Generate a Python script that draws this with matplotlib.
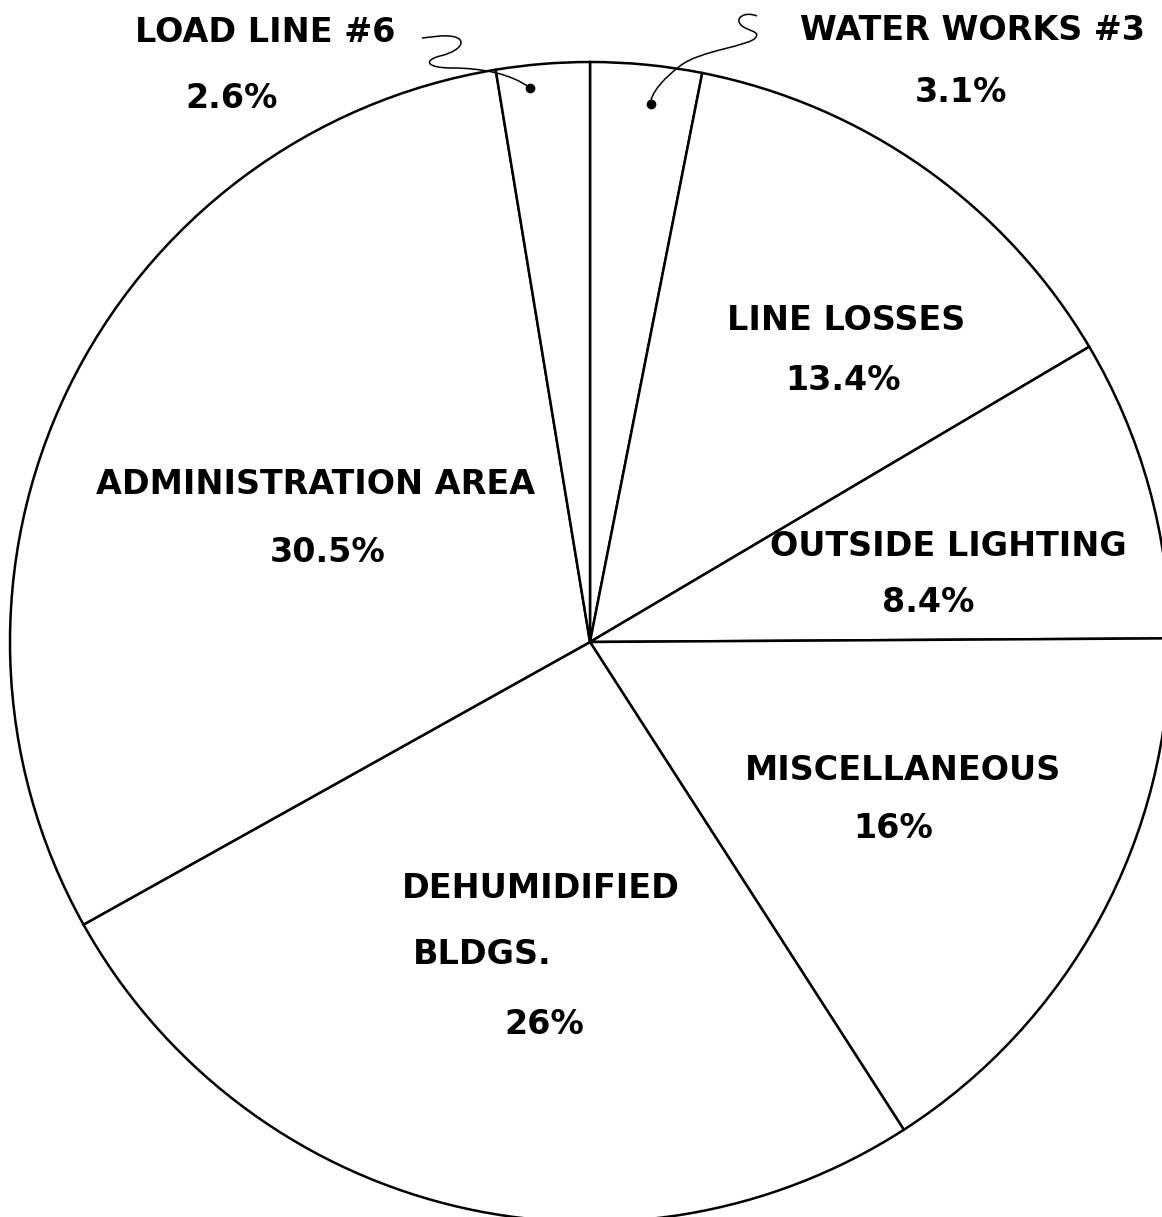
import matplotlib
matplotlib.use("Agg")
import matplotlib.pyplot as plt
from matplotlib.path import Path
from matplotlib.patches import PathPatch

# ---- data ----
categories = ["WATER WORKS #3", "LINE LOSSES", "OUTSIDE LIGHTING", "MISCELLANEOUS",
              "DEHUMIDIFIED BLDGS.", "ADMINISTRATION AREA", "LOAD LINE #6"]
values = [3.1, 13.4, 8.4, 16, 26, 30.5, 2.6]
pct_labels = ["3.1%", "13.4%", "8.4%", "16%", "26%", "30.5%", "2.6%"]

W, H = 1162, 1217
fig = plt.figure(figsize=(W / 100, H / 100), dpi=100)
ax = fig.add_axes([0, 0, 1, 1])

def Y(y):
    return H - y

cx, cy, R = 590, 642, 580
ax.pie(values, startangle=90, counterclock=False, center=(cx, Y(cy)), radius=R,
       wedgeprops=dict(facecolor="white", edgecolor="black", linewidth=1.8))
ax.set_xlim(0, W)
ax.set_ylim(0, H)
ax.set_aspect("equal")
ax.axis("off")

fs = 24
tk = dict(fontsize=fs, family="DejaVu Sans", fontweight="bold", color="black", va="center")

def T(x, y, s, ha="center"):
    ax.text(x, Y(y), s, ha=ha, **tk)

T(265, 33, "LOAD LINE #6")
T(232, 98, pct_labels[6])
T(973, 30, "WATER WORKS #3")
T(961, 93, pct_labels[0])
T(846, 320, "LINE LOSSES")
T(843, 380, pct_labels[1])
T(316, 484, "ADMINISTRATION AREA")
T(328, 553, pct_labels[5])
T(948, 546, "OUTSIDE LIGHTING")
T(928, 603, pct_labels[2])
T(903, 770, "MISCELLANEOUS")
T(893, 828, pct_labels[3])
T(541, 888, "DEHUMIDIFIED")
T(413, 955, "BLDGS.", ha="left")
T(544, 1025, pct_labels[4])

# connector squiggles
def squiggle(pts, codes):
    verts = [(x, Y(y)) for x, y in pts]
    ax.add_patch(PathPatch(Path(verts, codes), facecolor="none", edgecolor="black",
                           linewidth=1.1, clip_on=False))

M, L, C = Path.MOVETO, Path.LINETO, Path.CURVE4
squiggle([(422, 38), (440, 36),
          (470, 34), (466, 50), (440, 56),
          (424, 60), (425, 68), (452, 68),
          (482, 68), (512, 74), (530, 88)],
         [M, L, C, C, C, C, C, C, C, C, C])
ax.plot([530], [Y(88)], "o", color="black", markersize=6)

squiggle([(757, 16),
          (745, 11), (734, 18), (741, 25),
          (747, 31), (760, 31), (756, 37),
          (752, 46), (700, 50), (680, 66),
          (662, 80), (652, 92), (650, 104)],
         [M, C, C, C, C, C, C, C, C, C, C, C, C])
ax.plot([651], [Y(104)], "o", color="black", markersize=6)

fig.savefig("out.png", dpi=100, facecolor="white")
